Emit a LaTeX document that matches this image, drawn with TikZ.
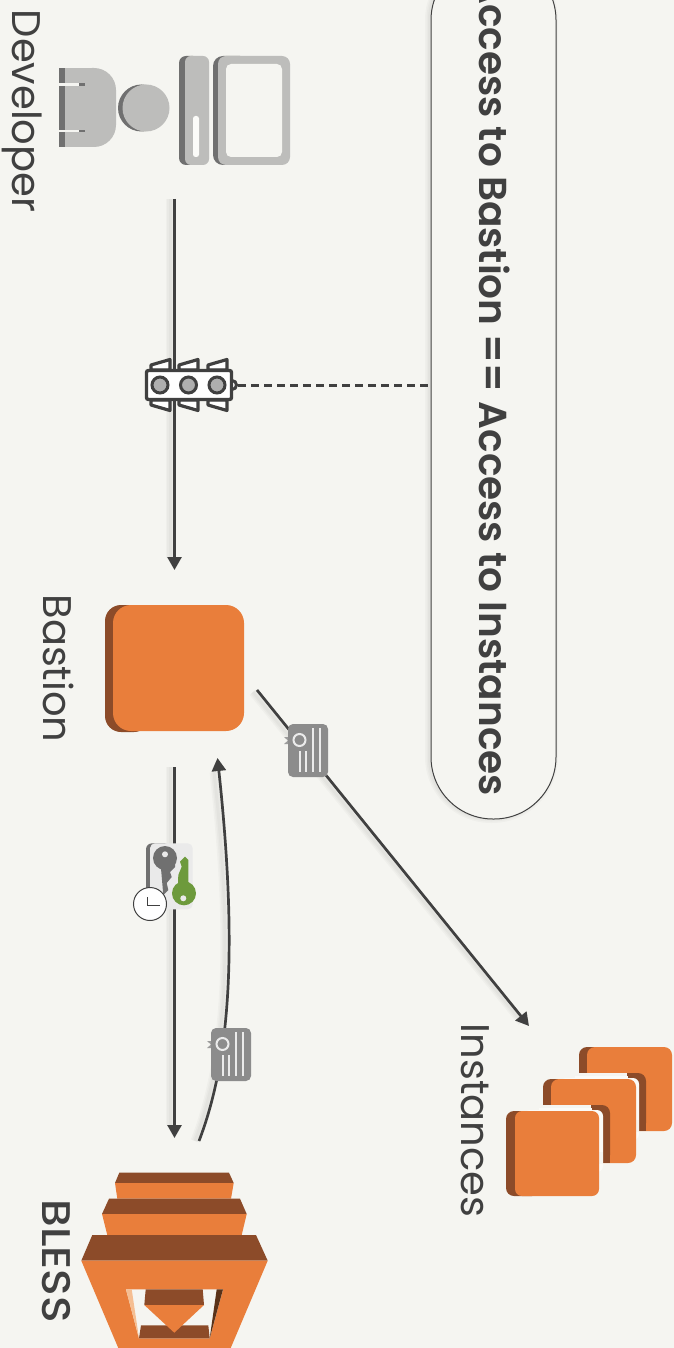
\documentclass[tikz,border=0pt]{standalone}
\usepackage{fontspec}
\setmainfont{Poppins}
\newfontfamily\pmedium{Poppins Medium}
\newfontfamily\psemi{Poppins SemiBold}
\usetikzlibrary{arrows.meta,calc}
\definecolor{bgc}{HTML}{F5F5F1}
\definecolor{org}{HTML}{E97E3B}
\definecolor{brn}{HTML}{8C4B29}
\definecolor{dbrn}{HTML}{5A3218}
\definecolor{lorg}{HTML}{F5BE92}
\definecolor{lgr}{HTML}{BDBDBB}
\definecolor{mgr}{HTML}{707070}
\definecolor{line}{HTML}{404040}
\definecolor{cert}{HTML}{8C8C8C}
\definecolor{keybg}{HTML}{EAEAEA}
\definecolor{grn}{HTML}{6D9A3C}
\definecolor{halo}{HTML}{FBFBF8}
\tikzset{
  labeltext/.style={rotate=-90,anchor=base,inner sep=0pt,text=line,font=\fontsize{40}{40}\selectfont},
  hidden/.style={inner sep=0pt,outer sep=0pt},
  conn/.style={draw=line,line width=2.7pt,-{Triangle[length=13pt,width=14pt]}},
  sh/.style={draw=black,opacity=.025},
  certline/.style={draw=white!92!black,line width=1.7pt},
  flap/.style={fill=white,draw=line,line width=3.2pt,line join=round},
}
\newcommand{\certicon}[2]{%
  \begin{scope}[shift={(#1,#2)}]
    \fill[cert!85!white] (284,737) -- (296,737) -- (296,744) -- (284,744) -- (288,740.5) -- cycle;
    \fill[cert,rounded corners=5pt] (288,724) rectangle (328,777);
    \draw[white!92!black,line width=2pt,fill=cert] (299.5,740) circle (6);
    \draw[certline] (300,751) -- (300,772);
    \draw[certline] (306,751) -- (306,772);
    \draw[certline] (313,728) -- (313,772);
    \draw[certline] (320,728) -- (320,772);
  \end{scope}}
\newcommand{\instback}[2]{%
  \begin{scope}[shift={(#1,#2)}]
    \fill[brn,rounded corners=8pt] (579,1047) rectangle (610,1073);
    \fill[brn] (579,1060) rectangle (610,1073);
    \fill[org,rounded corners=8pt] (587,1047) rectangle (672,1131);
    \fill[bgc] (575,1073) rectangle (625,1132);
    \fill[brn,rounded corners=8pt] (615,1073) -- (646,1073) -- (646,1131) -- (615,1131) -- cycle;
    \fill[brn] (639,1100) rectangle (646,1131);
    \fill[halo,rounded corners=6pt] (560,1078) -- (639,1078) -- (639,1140) -- (560,1140) -- cycle;
    \fill[bgc] (575,1073) rectangle (627,1078);
    \fill[bgc] (575,1120) rectangle (639.3,1132);
    \fill[halo] (575,1076) rectangle (628,1079);
  \end{scope}}
\begin{document}
\begin{tikzpicture}[x=1pt,y=-1pt]
\useasboundingbox (0,0) rectangle (674,1348);
\clip (0,0) rectangle (674,1348);
\fill[bgc] (0,0) rectangle (674,1348);

% Developer icon
\fill[lgr,rounded corners=22pt] (70,68) -- (116,68) -- (116,147) -- (70,147) -- cycle;
\fill[lgr] (65,68) rectangle (92,147);
\fill[mgr] (59,68) rectangle (65,147);
\fill[bgc] (59,83.5) rectangle (79,86);
\fill[bgc] (59,130) rectangle (79,132.5);
\fill[mgr] (79,83.5) rectangle (85,86);
\fill[mgr] (79,130) rectangle (85,132.5);
\fill[mgr] (141.5,108) circle (23.5);
\fill[lgr] (146,108) circle (23.5);
\fill[mgr,rounded corners=7pt] (179,56) rectangle (200,165);
\fill[lgr,rounded corners=6pt] (185,56) rectangle (209,165);
\fill[halo,rounded corners=2.5pt] (193,116) rectangle (199,157);
\fill[mgr,rounded corners=10pt] (213,56) rectangle (250,165);
\fill[lgr,rounded corners=8pt] (218,56) rectangle (290,165);
\fill[bgc,rounded corners=5pt] (226,64) rectangle (282,157);
\node[hidden,minimum width=231pt,minimum height=109pt] (dev) at (174.5,110.5) {};
\node[labeltext] (devlabel) at (12.5,111) {Developer};

% Pill
\foreach \w in {2,5,8}{
  \draw[sh,line width=\w pt,rounded corners=62pt] (429,-42) rectangle (554,819);
}
\node[draw=line,line width=1pt,fill=bgc,rounded corners=62pt,minimum width=125pt,minimum height=861pt,inner sep=0pt] (pill) at (493.5,388.5) {};
\node[rotate=-90,anchor=base,inner sep=0pt,text=line,font=\fontsize{39}{39}\selectfont\psemi] (pilltext) at (479,386) {Access to Bastion == Access to Instances};

% Bastion
\fill[brn,rounded corners=16pt] (105,605) rectangle (150,732);
\node[fill=org,rounded corners=18pt,minimum width=131pt,minimum height=126pt,inner sep=0pt,outer sep=0pt] (bastion) at (178.5,668) {};
\node[labeltext] (bastionlabel) at (43,668.5) {Bastion};

% BLESS
\fill[brn] (119.3,1172.7) -- (229,1172.7) -- (233.7,1183) -- (115,1183) -- cycle;
\fill[org] (115,1183) -- (233.7,1183) -- (231,1198.7) -- (117.3,1198.7) -- cycle;
\fill[brn] (109,1198.7) -- (240,1198.7) -- (246.7,1214) -- (102,1214) -- cycle;
\fill[org] (102,1214) -- (246.7,1214) -- (241.7,1235) -- (107.3,1235) -- cycle;
\fill[brn] (92.3,1235) -- (256,1235) -- (267.7,1260.7) -- (81.3,1260.7) -- cycle;
\fill[org] (81.3,1260.7) -- (267.7,1260.7) -- (230.7,1348) -- (118.3,1348) -- cycle;
\fill[bgc] (126,1289.3) -- (223,1289.3) -- (209.7,1338.3) -- (139,1338.3) -- cycle;
\fill[lorg] (126,1289.3) -- (131.7,1289.3) -- (139,1338.3) -- cycle;
\fill[dbrn] (216.7,1289.3) -- (223,1289.3) -- (209.7,1338.3) -- cycle;
\fill[brn] (141,1325.3) -- (208.3,1325.3) -- (209.7,1338.3) -- (139,1338.3) -- cycle;
\fill[brn] (145.7,1289.3) -- (202.7,1289.3) -- (204,1305) -- (144.3,1305) -- cycle;
\fill[org] (144.3,1305) -- (204,1305) -- (174.3,1332.7) -- cycle;
\node[hidden,minimum width=186pt,minimum height=175pt] (bless) at (174.5,1260.5) {};
\node[labeltext] (blesslabel) at (42,1261) {\pmedium\scalebox{1.1}[1]{BLESS}};

% Instances
\instback{0}{0}
\instback{-36}{32}
\fill[brn,rounded corners=8pt] (506,1111) rectangle (540,1196);
\fill[org,rounded corners=7pt] (515,1111) rectangle (599,1196);
\node[hidden,minimum width=166pt,minimum height=149pt] (instances) at (589,1121.5) {};
\node[labeltext] (instlabel) at (461,1120.5) {Instances};

% Connector shadows
\foreach \w in {3,6,9}{
  \draw[sh,line width=\w pt] (170,199) -- (170,558);
  \draw[sh,line width=\w pt] (170,767) -- (170,1125);
  \draw[sh,line width=\w pt] (253,692) -- (522,1022);
  \draw[sh,line width=\w pt] (195,1141) .. controls (226,1060) and (234,950) .. (214,772);
}

% Connectors
\draw[conn,shorten <=34pt,shorten >=35pt] (dev.south) -- (dev.south |- bastion.north);
\draw[conn,shorten <=36pt,shorten >=35pt] (bless.north |- bastion.south) -- (bless.north);
\draw[conn] ([xshift=24.5pt,yshift=32pt]bless.north) .. controls (230,1060) and (238,950) .. ([xshift=39pt,yshift=-27pt]bastion.south);
\draw[conn] ([xshift=78.5pt,yshift=-22pt]bastion.center) -- ([xshift=-60pt,yshift=95.5pt]instances.center);

% Traffic light (filter)
\foreach \dx in {0,28,57}{
  \begin{scope}[shift={(\dx,0)}]
    \draw[flap] (151,370) -- (151,365) -- (170,359.5) -- (170,370) -- cycle;
    \draw[flap] (151,400) -- (151,405) -- (170,410.5) -- (170,400) -- cycle;
  \end{scope}}
\draw[line,line width=3pt,fill=white] (232,385) circle (4.5);
\node[draw=line,line width=3.4pt,fill=white,rounded corners=2pt,minimum width=85pt,minimum height=29pt,inner sep=0pt] (traffic) at (189,385) {};
\foreach \cx in {160,188.5,217}{
  \draw[line,line width=3pt,fill=cert!70!white] (\cx,385) circle (8);
}
\draw[line,line width=3pt,dash pattern=on 8pt off 5pt,shorten <=5pt] (traffic.east) -- (traffic.east -| pill.west);

% Certificates
\certicon{0}{0}
\certicon{-77}{304}

% Key pair
\fill[mgr,rounded corners=6pt] (146,843.3) rectangle (170,909.3);
\fill[keybg,rounded corners=5pt] (150,843.3) rectangle (192.7,909.3);
\fill[mgr] (165,858) circle (12);
\fill[mgr] (160.7,865) -- (163.3,895) -- (168.3,890) -- (166.7,883) -- (171.7,877) -- (170,872) -- (175,867) -- (175,858) -- (160.7,858) -- cycle;
\fill[keybg] (165,854.3) circle (3);
\fill[grn] (184,893.3) circle (12);
\fill[grn] (185,856.7) -- (188.3,860) -- (188.3,885) -- (178,885) -- (178.3,875) -- (181.7,866.7) -- (180,861.7) -- cycle;
\fill[keybg] (183.3,898.3) circle (3);
\draw[line,line width=1pt,fill=white] (150,904) circle (16.5);
\draw[line,line width=1pt] (147,897) -- (147,905) -- (160,905);
\end{tikzpicture}
\end{document}
